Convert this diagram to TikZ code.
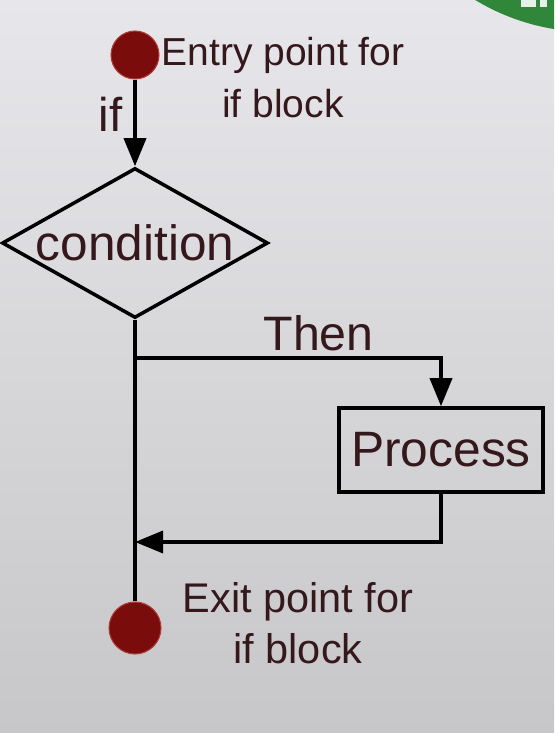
\documentclass[tikz,border=0pt]{standalone}
\usepackage{fontspec}
\setmainfont{Liberation Sans}
\usetikzlibrary{arrows.meta,shapes.geometric}
\definecolor{bgtop}{RGB}{231,231,235}
\definecolor{bgbot}{RGB}{199,199,201}
\definecolor{dotred}{RGB}{122,12,12}
\definecolor{dotrim}{RGB}{176,58,58}
\definecolor{txt}{RGB}{52,24,28}
\definecolor{badge}{RGB}{48,135,58}
\begin{document}
\begin{tikzpicture}[x=0.02cm,y=-0.02cm,
  dot/.style={circle,fill=dotred,draw=dotrim,line width=0.6pt,inner sep=0pt},
  lbl/.style={text=txt,inner sep=0pt},
  flow/.style={line width=2.2pt,-{Triangle[length=16pt,width=12.5pt]}},
  wire/.style={line width=2.2pt}]
\useasboundingbox (0,0) rectangle (554,733);
\shade[top color=bgtop,bottom color=bgbot] (0,0) rectangle (554,733);
% badge in the corner
\begin{scope} \clip (0,0) rectangle (554,733);
\fill[badge] (590,-190) circle[radius=4.44cm];
\fill[white!88!badge] (521,0) rectangle (536,7); \fill[white!88!badge] (540,0) rectangle (547,7);
\end{scope}
% blocks
\node[dot,minimum size=0.96cm] (entry) at (135,55) {};
\node[diamond,draw,line width=2pt,inner sep=0pt,minimum width=5.32cm,minimum height=3cm,
  label={[lbl,font=\fontsize{28.2pt}{34pt}\selectfont]center:condition}] (cond) at (135,243) {};
\node[draw,line width=2pt,inner sep=0pt,minimum width=4.08cm,minimum height=1.68cm,lbl,
  font=\fontsize{28.3pt}{34pt}\selectfont] (proc) at (441,450) {Process};
\node[dot,minimum size=1.04cm] (exit) at (135,628) {};
\coordinate (split) at (135,358); \coordinate (join) at (135,542);
% texts
\node[lbl,anchor=base,align=center,font=\fontsize{22.2pt}{29.6pt}\selectfont] (entrytxt) at (283,118) {Entry point for\\if block};
\node[lbl,anchor=base,align=center,font=\fontsize{23.6pt}{28.5pt}\selectfont] (exittxt) at (298,663) {Exit point for\\if block};
\node[lbl,anchor=base east,font=\fontsize{27pt}{32pt}\selectfont] (iflbl) at (123,132) {if};
% connectors
\draw[flow] (entry) -- (cond.north);
\draw[wire] (cond.south) -- (exit.north);
\draw[flow] (split) -| (proc.north) node[lbl,pos=0.3,anchor=base,yshift=4pt,font=\fontsize{27.5pt}{32pt}\selectfont] (thenlbl) {Then};
\draw[flow] (proc.south) |- (join);
\end{tikzpicture}
\end{document}
